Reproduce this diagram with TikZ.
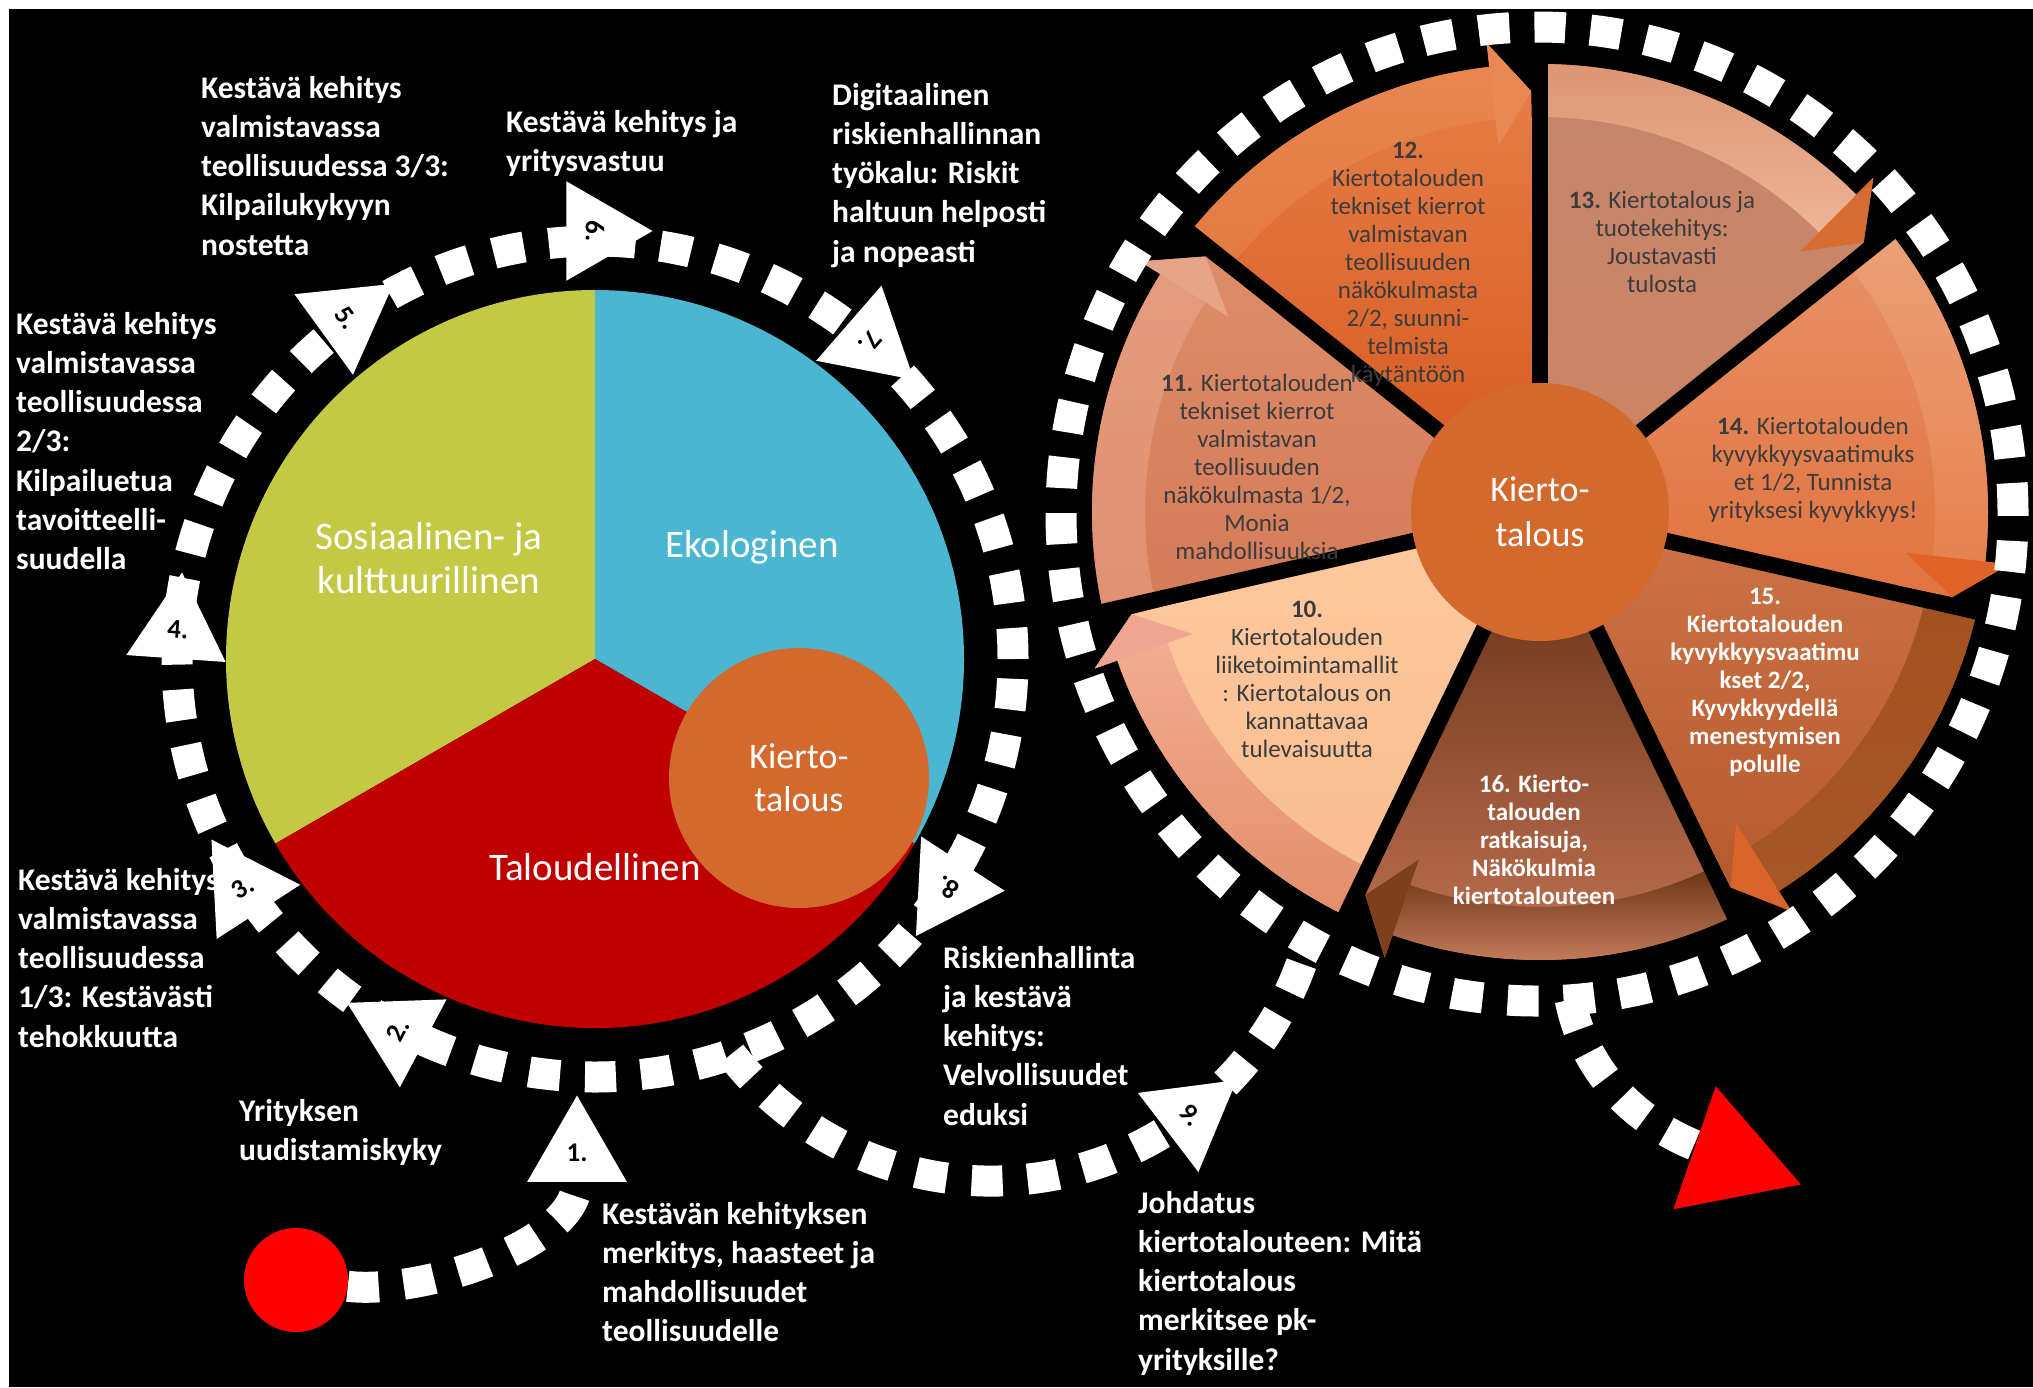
\documentclass[tikz,border=0pt]{standalone}
\usepackage{fontspec}
\setmainfont{Carlito}
\usetikzlibrary{positioning, calc, shapes.geometric}

\definecolor{socgreen}{HTML}{C4C945}
\definecolor{ecoblue}{HTML}{4AB6CF}
\definecolor{econred}{HTML}{C00000}
\definecolor{circorange}{HTML}{D3692C}
\definecolor{startred}{HTML}{FF0000}
\definecolor{segtext}{HTML}{3C3C3C}

\definecolor{s10top}{HTML}{FDCA9E}
\definecolor{s10mid}{HTML}{FCC699}
\definecolor{s10bot}{HTML}{F8BC90}
\definecolor{s10band}{HTML}{F2AC90}
\definecolor{s10bandb}{HTML}{E38E6A}
\definecolor{s10head}{HTML}{EFA690}

\definecolor{s11top}{HTML}{DD8C6A}
\definecolor{s11mid}{HTML}{D9825F}
\definecolor{s11bot}{HTML}{D47B58}
\definecolor{s11band}{HTML}{E49C7E}
\definecolor{s11bandb}{HTML}{E09070}
\definecolor{s11head}{HTML}{E8A487}

\definecolor{s12top}{HTML}{E88049}
\definecolor{s12mid}{HTML}{E06C33}
\definecolor{s12bot}{HTML}{D5581F}
\definecolor{s12band}{HTML}{E98650}
\definecolor{s12bandb}{HTML}{E47A42}
\definecolor{s12head}{HTML}{E98853}

\definecolor{s13top}{HTML}{C5866C}
\definecolor{s13mid}{HTML}{EDBA9A}
\definecolor{s13bot}{HTML}{CE8463}
\definecolor{s13band}{HTML}{DC9674}
\definecolor{s13bandb}{HTML}{EDB494}
\definecolor{s13head}{HTML}{D66C32}

\definecolor{s14top}{HTML}{E89168}
\definecolor{s14mid}{HTML}{EA9468}
\definecolor{s14bot}{HTML}{E1733E}
\definecolor{s14band}{HTML}{ECA077}
\definecolor{s14bandb}{HTML}{E58250}
\definecolor{s14head}{HTML}{DF6329}

\definecolor{s15top}{HTML}{CE7345}
\definecolor{s15mid}{HTML}{BF6233}
\definecolor{s15bot}{HTML}{B3592B}
\definecolor{s15band}{HTML}{A3511F}
\definecolor{s15bandb}{HTML}{A75626}
\definecolor{s15head}{HTML}{D9642C}

\definecolor{s16top}{HTML}{5E2C10}
\definecolor{s16mid}{HTML}{6E3618}
\definecolor{s16bot}{HTML}{C47454}
\definecolor{s16band}{HTML}{6B3515}
\definecolor{s16bandb}{HTML}{CF8465}
\definecolor{s16head}{HTML}{7D401D}

\begin{document}
\begin{tikzpicture}
		[x=1pt, y=1pt,
		lbl/.style={font=\bfseries\fontsize{31.5}{39.2}\selectfont, text=white, align=left, anchor=north west, inner sep=0},
		pielbl/.style={font=\fontsize{39}{44}\selectfont, text=white, align=center, inner sep=0},
		segtxt/.style={font=\fontsize{25}{28}\selectfont, text=segtext, align=center, anchor=north, inner sep=0},
		segbold/.style={segtxt, font=\bfseries\fontsize{25}{28}\selectfont, text=white},
		flowarrow/.style={regular polygon, regular polygon sides=3, fill=white, minimum size=115pt, inner sep=0, font=\bfseries\fontsize{27}{27}\selectfont, text=black},
		dashpath/.style={draw=white, line width=31pt, dash pattern=on 31pt off 25pt},
		]
		\useasboundingbox (0,0) rectangle (2033,-1387);
		\fill[white] (0,0) rectangle (2033,-1387);
		\fill[black] (9,-9) rectangle (2033,-1387);
		
		% left pie
		\coordinate (lc) at (595,-659);
		\fill[socgreen] (lc) -- ([shift={(90:369)}]lc) arc[start angle=90, end angle=210, radius=369] -- cycle;
		\fill[ecoblue] (lc) -- ([shift={(90:369)}]lc) arc[start angle=90, end angle=-30, radius=369] -- cycle;
		\fill[econred] (lc) -- ([shift={(210:369)}]lc) arc[start angle=210, end angle=330, radius=369] -- cycle;
		\node[circle, fill=circorange, minimum size=260pt, inner sep=0, font=\fontsize{36}{43}\selectfont, text=white, align=center] (kiertol) at (799,-778) {Kierto-\\talous};
		
		\node[pielbl] (sosiaal) at (429,-558) {Sosiaalinen- ja\\kulttuurillinen};
		\node[pielbl] (ekolog) at (752,-547) {Ekologinen};
		\node[pielbl] (taloud) at (595,-867) {Taloudellinen};
		
		% right wheel
		\coordinate (rc) at (1540,-512);
		\coordinate (rr) at (1537,-514);
		\foreach \n/\a/\b in {13/90/38.571, 14/38.571/-12.857, 15/-12.857/-64.286, 16/-64.286/-115.714, 10/-115.714/-167.143, 11/-167.143/-218.571, 12/141.429/90}
		{
			\shade[top color=s\n top, middle color=s\n mid, bottom color=s\n bot]
				(rc) -- ([shift={(\a:448)}]rc) arc[start angle=\a, end angle=\b+6.5, radius=448]
				-- ([shift={(\b+6.5:472)}]rc) -- ([shift={(\b+1.2:421)}]rc) -- cycle;
			\shade[top color=s\n band, bottom color=s\n bandb]
				([shift={(\a:448)}]rc) arc[start angle=\a, end angle=\b+6.5, radius=448]
				-- ([shift={(\b+6.5:395)}]rc) arc[start angle=\b+6.5, end angle=\a, radius=395] -- cycle;
			\fill[s\n head] ([shift={(\b+6.5:472)}]rc) -- ([shift={(\b+1.2:421)}]rc) -- ([shift={(\b+6.5:368)}]rc) -- cycle;
		}
		\foreach \b in {90, 38.571, -12.857, -64.286, -115.714, -167.143, -218.571}
			\draw[black, line width=16pt] (rc) -- ([shift={(\b:468)}]rc);
		
		\node[circle, fill=circorange, minimum size=258pt, inner sep=0, font=\fontsize{36}{45}\selectfont, text=white, align=center] (kiertor) at (rc) {Kierto-\\talous};
		
		\node[segtxt] (t10) at (1307,-601) {\textbf{10.}\\Kiertotalouden\\liiketoimintamallit\\: Kiertotalous on\\kannattavaa\\tulevaisuutta};
		\node[segtxt] (t11) at (1257,-374) {\textbf{11.} Kiertotalouden\\tekniset kierrot\\valmistavan\\teollisuuden\\näkökulmasta 1/2,\\Monia\\mahdollisuuksia};
		\node[segtxt] (t12) at (1408,-142) {\textbf{12.}\\Kiertotalouden\\tekniset kierrot\\valmistavan\\teollisuuden\\näkökulmasta\\2/2, suunni-\\telmista\\käytäntöön};
		\node[segtxt] (t13) at (1662,-191) {\textbf{13.} Kiertotalous ja\\tuotekehitys:\\Joustavasti\\tulosta};
		\node[segtxt] (t14) at (1813,-417) {\textbf{14.} Kiertotalouden\\kyvykkyysvaatimuks\\et 1/2, Tunnista\\yrityksesi kyvykkyys!};
		\node[segbold] (t15) at (1765,-588) {15.\\Kiertotalouden\\kyvykkyysvaatimu\\kset 2/2,\\Kyvykkyydellä\\menestymisen\\polulle};
		\node[segbold] (t16) at (1534,-775) {16. Kierto-\\talouden\\ratkaisuja,\\Näkökulmia\\kiertotalouteen};
		
		% labels
		\node[lbl] (kk3) at (201,-76) {Kestävä kehitys\\valmistavassa\\teollisuudessa 3/3:\\Kilpailukykyyn\\nostetta};
		\node[lbl] (vastuu) at (506,-110) {Kestävä kehitys ja\\yritysvastuu};
		\node[lbl] (digiriski) at (832,-83) {Digitaalinen\\riskienhallinnan\\työkalu: Riskit\\haltuun helposti\\ja nopeasti};
		\node[lbl] (kk2) at (16,-312) {Kestävä kehitys\\valmistavassa\\teollisuudessa\\2/3:\\Kilpailuetua\\tavoitteelli-\\suudella};
		\node[lbl] (kk1) at (18,-868) {Kestävä kehitys\\valmistavassa\\teollisuudessa\\1/3: Kestävästi\\tehokkuutta};
		\node[lbl] (uudistus) at (239,-1099) {Yrityksen\\uudistamiskyky};
		\node[lbl] (merkitys) at (602,-1202) {Kestävän kehityksen\\merkitys, haasteet ja\\mahdollisuudet\\teollisuudelle};
		\node[lbl] (riskit) at (943,-946) {Riskienhallinta\\ja kestävä\\kehitys:\\Velvollisuudet\\eduksi};
		\node[lbl] (johdatus) at (1138,-1191) {Johdatus\\kiertotalouteen: Mitä\\kiertotalous\\merkitsee pk-\\yrityksille?};
		
		% dashed rings
		\coordinate (lj) at ([shift={(-71:418)}]lc);
		\coordinate (rj) at ([shift={(-86:476 and 487)}]rr);
		\draw[dashpath] (lc) circle[radius=418];
		\draw[dashpath] (rr) ellipse[x radius=476, y radius=487];
		\draw[dashpath] (lj) arc[start angle=-142, end angle=-16, radius=330];
		
		\node[flowarrow] (a1) at (577,-1153) {1.};
		\node[flowarrow, rotate=62] (a2) at ([shift={(242:420)}]lc) {2.};
		\node[flowarrow, rotate=33] (a3) at ([shift={(213:420)}]lc) {3.};
		\node[flowarrow, rotate=-4] (a4) at ([shift={(176:418)}]lc) {4.};
		\node[flowarrow, rotate=-54] (a5) at ([shift={(126:422)}]lc) {5.};
		\node[flowarrow, rotate=-90] (a6) at ([shift={(90:428)}]lc) {6.};
		\node[flowarrow, rotate=-131] (a7) at ([shift={(49:420)}]lc) {7.};
		\node[flowarrow, rotate=147] (a8) at ([shift={(-33:420)}]lc) {8.};
		\node[flowarrow, rotate=-52.6] (a9) at (1191,-1115) {9.};
		
		\node[circle, fill=startred, minimum size=104pt, inner sep=0] (start) at (296,-1280) {};
		\node[regular polygon, regular polygon sides=3, fill=startred, minimum size=150pt, inner sep=0, rotate=11] (finish) at (1730,-1160) {};
		
		\draw[dashpath] (start) .. controls (420,-1295) and (577,-1245) .. (a1);
		\draw[dashpath] (rj) .. controls (1582,-1060) and (1622,-1115) .. (finish);
\end{tikzpicture}
\end{document}
